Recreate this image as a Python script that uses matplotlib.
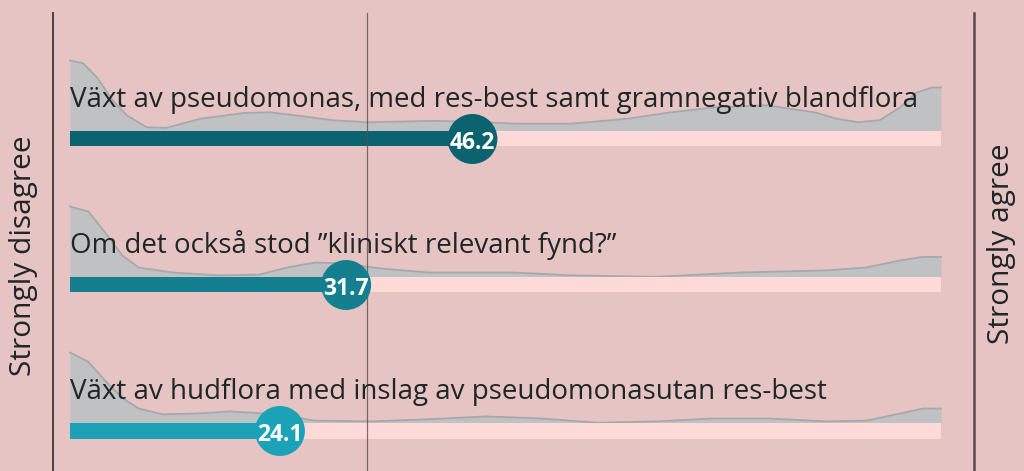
import numpy as np
import matplotlib
matplotlib.use("Agg")
import matplotlib.pyplot as plt

# --- data -----------------------------------------------------------------
labels = [
    "Växt av pseudomonas, med res-best samt gramnegativ blandflora",
    "Om det också stod ”kliniskt relevant fynd?”",
    "Växt av hudflora med inslag av pseudomonasutan res-best",
]
values = [46.2, 31.7, 24.1]
reference_line = 34.1

# response distributions (relative density, 0-100 scale)
dens1_x = [0, 1.5, 3.1, 4.9, 6.5, 8.8, 11, 15, 19.9, 23, 26.4, 30, 34.1, 38, 41.7,
           46, 51, 57.5, 64, 69, 74, 80, 85.5, 88, 90.5, 93, 95.3, 97.2, 99, 100]
dens1_y = [1.0, 0.96, 0.76, 0.44, 0.23, 0.06, 0.05, 0.18, 0.26, 0.27, 0.22, 0.16, 0.13, 0.14, 0.15,
           0.14, 0.11, 0.11, 0.18, 0.27, 0.34, 0.37, 0.27, 0.18, 0.13, 0.16, 0.34, 0.55, 0.62, 0.62]
dens2_x = [0, 2.1, 4.0, 6.0, 7.9, 11.8, 17.1, 21.7, 24.9, 28.1, 31.5, 35.4, 41.2, 51,
           57.5, 67.3, 77, 86.8, 91.4, 95.3, 97.9, 100]
dens2_y = [1.0, 0.93, 0.64, 0.31, 0.14, 0.07, 0.03, 0.04, 0.14, 0.21, 0.20, 0.13, 0.07, 0.07,
           0.03, 0.01, 0.07, 0.10, 0.14, 0.24, 0.29, 0.29]
dens3_x = [0, 2.1, 4.0, 6.0, 7.9, 10.6, 14.5, 18.4, 23.7, 28.1, 34.7, 41.2, 47.8, 54.2,
           60.7, 67.3, 73.8, 80.3, 86.8, 91.4, 95.3, 97.9, 100]
dens3_y = [1.0, 0.87, 0.61, 0.36, 0.21, 0.13, 0.14, 0.17, 0.13, 0.04, 0.03, 0.06, 0.10, 0.07,
           0.01, 0.03, 0.07, 0.07, 0.03, 0.04, 0.14, 0.21, 0.21]
densities = [(dens1_x, dens1_y), (dens2_x, dens2_y), (dens3_x, dens3_y)]

# --- style ----------------------------------------------------------------
BG = "#e6c4c3"
LIGHT = "#fdd9d7"
GREY = "#c0c1c3"
EDGE = "#a7a8aa"
colors = ["#0c6370", "#14808f", "#1ca2b6"]
FONT = "Open Sans"

W, H = 1024, 471
PX = 8.71          # pixels per value unit
ROW = 146          # pixels per row
Y0 = 139           # first bar centre, pixels from top
bar_h = 15 / ROW
dens_h = 71 / ROW

fig = plt.figure(figsize=(W / 100, H / 100), dpi=100)
fig.patch.set_facecolor(BG)
ax = fig.add_axes([0, 0, 1, 1])
ax.set_facecolor(BG)
ax.set_xlim(-70 / PX, (W - 70) / PX)
ax.set_ylim((H - Y0) / ROW, -Y0 / ROW)
ax.axis("off")

top = (13 - Y0) / ROW
bottom = (H - Y0) / ROW
ax.plot([-1.95, -1.95], [top, bottom], color="#4a4040", lw=1.4, zorder=1)
ax.plot([103.8, 103.8], [top, bottom], color="#5a4a4a", lw=1.8, zorder=1)
ax.plot([reference_line] * 2, [top, bottom], color="#5a5050", lw=0.9, alpha=0.8, zorder=4)

for i, (lab, v, (dx, dy), c) in enumerate(zip(labels, values, densities, colors)):
    base = i - bar_h / 2
    curve = base - np.array(dy) * dens_h
    ax.fill_between(dx, base, curve, color=GREY, lw=0, zorder=2)
    ax.plot(dx, curve, color=EDGE, lw=1.3, zorder=2, solid_joinstyle="round")

    ax.barh(i, 100, height=bar_h, left=0, color=LIGHT, zorder=3)
    ax.barh(i, v, height=bar_h, left=0, color=c, zorder=3)

    ax.text(0, i - 32 / ROW, lab, ha="left", va="baseline", fontsize=20,
            family=FONT, color="#1f2626", zorder=4)

    ax.scatter([v], [i], s=1296, color=c, edgecolors="none", zorder=5)
    ax.text(v, i + 1.5 / ROW, f"{v:.1f}", ha="center", va="center_baseline", color="white",
            fontsize=16.5, fontweight="bold", family=FONT, zorder=6)

fig.text(24 / W, 1 - 256 / H, "Strongly disagree", rotation=90, ha="center", va="center",
         fontsize=21.5, family=FONT, color="#1f2626")
fig.text(1001 / W, 1 - 244 / H, "Strongly agree", rotation=90, ha="center", va="center",
         fontsize=21.5, family=FONT, color="#1f2626")

fig.savefig("out.png", dpi=100, facecolor=BG)
